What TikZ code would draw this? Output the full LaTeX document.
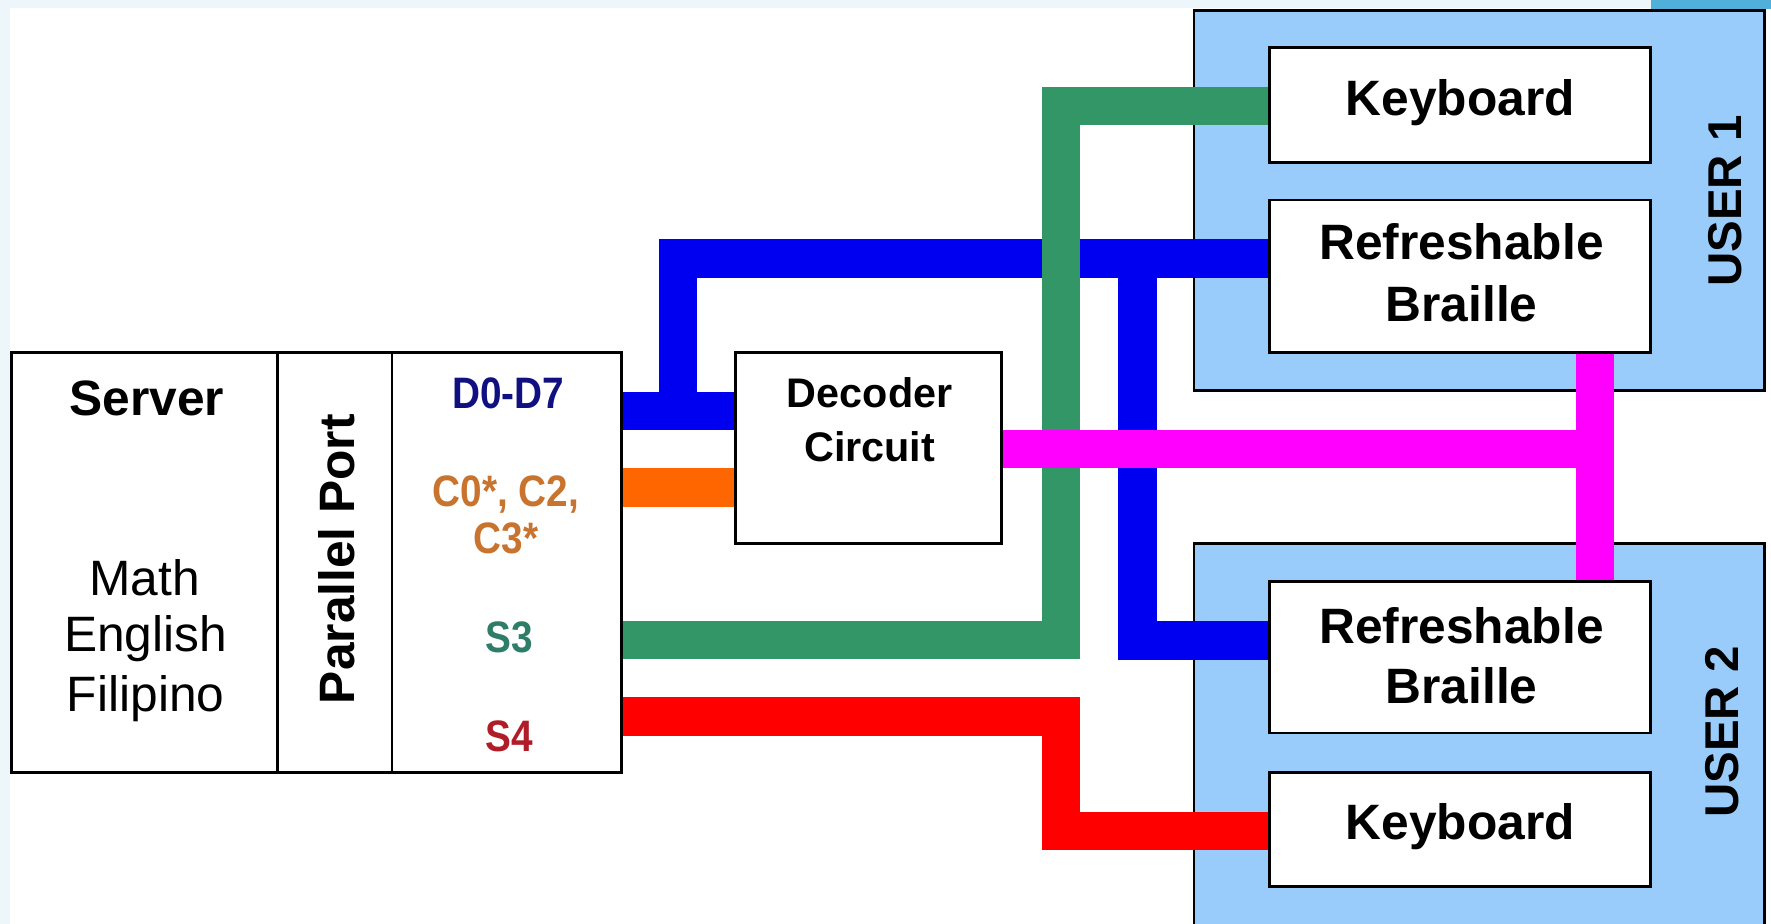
\documentclass[tikz,border=0pt]{standalone}
\usepackage{fontspec}
\setmainfont{Liberation Sans}
\usetikzlibrary{fit}
\definecolor{cblue}{RGB}{0,0,240}
\definecolor{corange}{RGB}{255,102,0}
\definecolor{cgreen}{RGB}{51,150,102}
\definecolor{cred}{RGB}{255,0,0}
\definecolor{cpink}{RGB}{255,0,255}
\definecolor{userfill}{RGB}{153,204,250}
\definecolor{bgband}{RGB}{236,246,251}
\definecolor{cornerblue}{RGB}{80,176,218}
\definecolor{lnavy}{RGB}{16,16,128}
\definecolor{lorange}{RGB}{200,116,46}
\definecolor{lteal}{RGB}{46,125,104}
\definecolor{lred}{RGB}{176,28,40}
\pgfdeclarelayer{back}
\pgfdeclarelayer{wires}
\pgfsetlayers{back,wires,main}
\begin{document}
\begin{tikzpicture}[x=0.5pt,y=-0.5pt,
  box/.style={draw=black, line width=1.2pt, fill=white, inner sep=0pt},
  userbox/.style={draw=black, line width=1.2pt, fill=userfill, inner sep=0pt},
  wire/.style={line width=17pt, line join=miter, line cap=butt},
  lbl/.style={font=\fontsize{22}{26}\selectfont\bfseries, anchor=base, inner sep=0pt},
  reg/.style={font=\fontsize{22}{26}\selectfont, anchor=base, inner sep=0pt},
  dectxt/.style={font=\fontsize{18.3}{22}\selectfont\bfseries, anchor=base, inner sep=0pt},
  sig/.style={font=\fontsize{19.5}{22}\selectfont\bfseries, anchor=base, inner sep=0pt, xscale=0.88},
  usertxt/.style={font=\fontsize{21}{24}\selectfont\bfseries, anchor=base, inner sep=0pt, rotate=90},
]
\useasboundingbox (0,0) rectangle (1568,818);
\clip (0,0) rectangle (1568,818);

\begin{pgfonlayer}{back}
\fill[white] (0,0) rectangle (1568,818);
\fill[bgband] (0,0) rectangle (1568,7);
\fill[bgband] (0,0) rectangle (9,818);
\fill[cornerblue] (1462,0) rectangle (1568,8);
\node[userbox, fit={(1057,9) (1562,346)}] (u1) {};
\node[userbox, fit={(1057,481) (1562,840)}] (u2) {};
\end{pgfonlayer}

% boxes
\node[box, fit={(10,312) (550,684)}] (srv) {};
\draw[line width=1.2pt] (246,312) -- (246,684);
\draw[line width=1.2pt] (347,312) -- (347,684);
\node[box, fit={(651,312) (887,481)}] (dec) {};
\node[box, fit={(1124,42) (1461,144)}] (kb1) {};
\node[box, fit={(1124,177) (1461,312)}] (br1) {};
\node[box, fit={(1124,515) (1461,649)}] (br2) {};
\node[box, fit={(1124,684) (1461,785)}] (kb2) {};

% wire bend points
\coordinate (yD) at (0,364);
\coordinate (oA) at (0,431.5);
\coordinate (bA) at (600.5,364);
\coordinate (bB) at (600.5,229);
\coordinate (bC) at (1007,229);
\coordinate (bD) at (1007,567);
\coordinate (gA) at (939.5,566.5);
\coordinate (gB) at (939.5,94);
\coordinate (rA) at (939.5,634.5);
\coordinate (rB) at (939.5,736);
\coordinate (pA) at (1412,397.5);

\begin{pgfonlayer}{wires}
\draw[wire, cblue] (srv.east |- yD) -- (dec.west |- yD);
\draw[wire, cblue] (bA) -- (bB) -- (br1.west |- bB);
\draw[wire, cblue] (bC) -- (bD) -- (br2.west |- bD);
\draw[wire, corange] (srv.east |- oA) -- (dec.west |- oA);
\draw[wire, cred] (srv.east |- rA) -- (rA) -- (rB) -- (kb2.west |- rB);
\draw[wire, cgreen] (srv.east |- gA) -- (gA) -- (gB) -- (kb1.west |- gB);
\draw[wire, cpink] (dec.east |- pA) -- (pA);
\draw[wire, cpink] (br1.south -| pA) -- (br2.north -| pA);
\end{pgfonlayer}

% texts
\node[lbl] (tsrv) at (130,367.5) {Server};
\node[reg] (tmath) at (128,527) {Math};
\node[reg] (teng) at (129,577) {English};
\node[reg] (tfil) at (129,630) {Filipino};
\node[lbl, rotate=90] (tpp) at (314,495) {Parallel Port};
\node[sig, text=lnavy] (td) at (450,361.5) {D0-D7};
\node[sig, text=lorange] (tc1) at (448,448.6) {C0*, C2,};
\node[sig, text=lorange] (tc2) at (448,490) {C3*};
\node[sig, text=lteal] (ts3) at (451,578) {S3};
\node[sig, text=lred] (ts4) at (451,665.5) {S4};
\node[dectxt] (tdec1) at (770,361) {Decoder};
\node[dectxt] (tdec2) at (770,409) {Circuit};
\node[lbl] (tkb1) at (1293,102) {Keyboard};
\node[lbl] (tbr1a) at (1294,230) {Refreshable};
\node[lbl] (tbr1b) at (1294,285) {Braille};
\node[lbl] (tbr2a) at (1294,569.5) {Refreshable};
\node[lbl] (tbr2b) at (1294,622.5) {Braille};
\node[lbl] (tkb2) at (1293,743.5) {Keyboard};
\node[usertxt] (tu1) at (1542,178) {USER 1};
\node[usertxt] (tu2) at (1539,648) {USER 2};
\end{tikzpicture}
\end{document}
